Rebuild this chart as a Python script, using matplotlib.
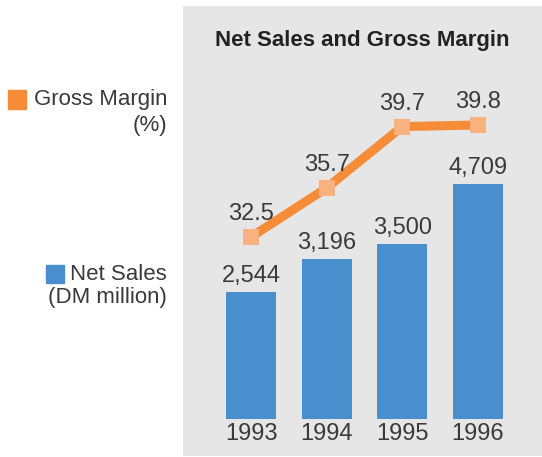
import matplotlib
matplotlib.use("Agg")
import matplotlib.pyplot as plt
from matplotlib.patches import Rectangle

# ========= data =========
years = ["1993", "1994", "1995", "1996"]
net_sales = [2544, 3196, 3500, 4709]          # DM million
gross_margin = [32.5, 35.7, 39.7, 39.8]       # %
sales_labels = ["2,544", "3,196", "3,500", "4,709"]
margin_labels = ["32.5", "35.7", "39.7", "39.8"]

BLUE = "#4a8fcd"
ORANGE = "#f68b38"
LIGHT_ORANGE = "#f9b27f"
PANEL = "#e6e6e6"
TEXT = "#3a3a3a"

plt.rcParams["font.family"] = ["Liberation Sans", "DejaVu Sans"]

W, H = 542, 457
fig = plt.figure(figsize=(W / 100, H / 100), dpi=100)

# gray panel = main axes
left, right, top, bottom = 183, 542, 6, 456
ax = fig.add_axes([left / W, (H - bottom) / H, (right - left) / W, (bottom - top) / H])
ax.set_facecolor(PANEL)
for s in ax.spines.values():
    s.set_visible(False)
ax.set_xticks([])
ax.set_yticks([])

x = list(range(len(years)))
ax.bar(x, net_sales, width=0.66, color=BLUE, zorder=2)
ax.set_xlim(-0.899, 3.846)
ax.set_ylim(-740, 8260)

for xi, v, lab in zip(x, net_sales, sales_labels):
    ax.annotate(lab, (xi, v), xytext=(0, 11.5), textcoords="offset points",
                ha="center", va="center", fontsize=17, color=TEXT)
for xi, yr in zip(x, years):
    ax.annotate(yr, (xi, 0), xytext=(0, -11), textcoords="offset points",
                ha="center", va="center", fontsize=17, color=TEXT)

# gross margin line on twin axis
ax2 = ax.twinx()
ax2.set_ylim(18.22, 47.56)
ax2.set_xlim(ax.get_xlim())
ax2.axis("off")
ax2.plot(x, gross_margin, color=ORANGE, lw=6.5, zorder=3, solid_capstyle="butt")
ax2.plot(x, gross_margin, ls="none", marker="s", ms=11.5, color=LIGHT_ORANGE,
         markeredgewidth=0, zorder=4)
for xi, v, lab in zip(x, gross_margin, margin_labels):
    ax2.annotate(lab, (xi, v), xytext=(0, 16.5), textcoords="offset points",
                 ha="center", va="center", fontsize=17, color=TEXT)

ax.text(0.4986, 0.924, "Net Sales and Gross Margin", transform=ax.transAxes,
        ha="center", va="center", fontsize=16, fontweight="bold", color="#222222")

# legend on the left
fig.patches.append(Rectangle((8 / W, (H - 109) / H), 18 / W, 19 / H,
                             transform=fig.transFigure, color=ORANGE))
fig.text(167 / W, (H - 99) / H, "Gross Margin", ha="right", va="center",
         fontsize=16, color=TEXT)
fig.text(167 / W, (H - 125) / H, "(%)", ha="right", va="center",
         fontsize=16, color=TEXT)

fig.patches.append(Rectangle((46 / W, (H - 283) / H), 18 / W, 18 / H,
                             transform=fig.transFigure, color=BLUE))
fig.text(167 / W, (H - 274) / H, "Net Sales", ha="right", va="center",
         fontsize=16, color=TEXT)
fig.text(167 / W, (H - 298) / H, "(DM million)", ha="right", va="center",
         fontsize=16, color=TEXT)

fig.savefig("out.png", dpi=100)
